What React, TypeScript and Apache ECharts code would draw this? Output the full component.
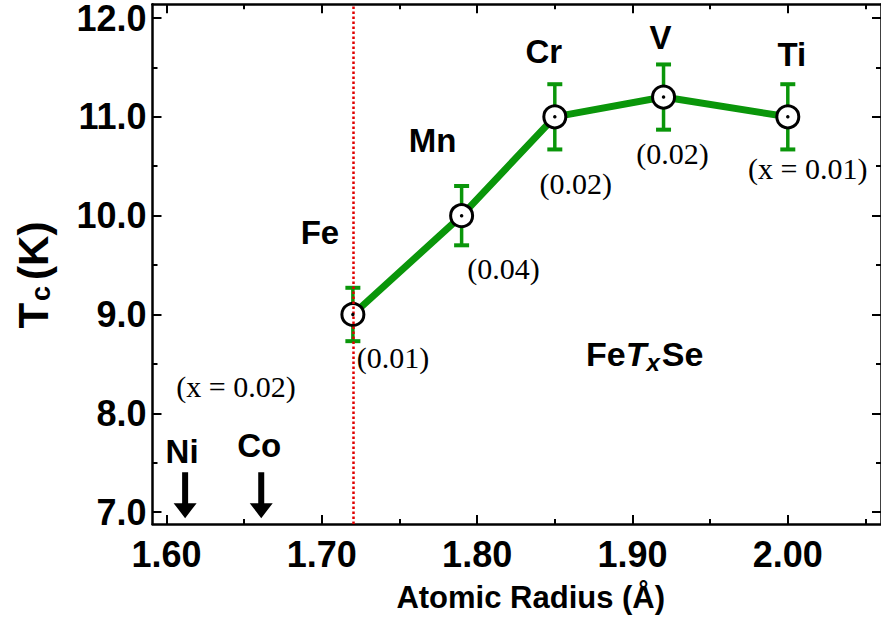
import React, { useEffect, useRef } from "react";
import * as echarts from "echarts";

// ---- data ----
const elements = ["Fe", "Mn", "Cr", "V", "Ti"];
const atomicRadius = [1.72, 1.79, 1.85, 1.92, 2.0];
const tc = [9.0, 10.0, 11.0, 11.2, 11.0];
const tcErr = [0.27, 0.3, 0.33, 0.33, 0.33];
const dopingLabels = ["(0.01)", "(0.04)", "(0.02)", "(0.02)", "(x = 0.01)"];
const otherElements = ["Ni", "Co"];
const otherRadius = [1.612, 1.661];
const otherBase = [7.0, 7.0];
const feRadius = 1.72;
const xTicks = [1.6, 1.7, 1.8, 1.9, 2.0];
const xMinorTicks = [1.65, 1.75, 1.85, 1.95, 2.05];
const yTicks = [7, 8, 9, 10, 11, 12];
const yMinorTicks = [7.5, 8.5, 9.5, 10.5, 11.5];

// ---- styles ----
const elementLabelOffsets = [
  [-33, -82],
  [-29, -75],
  [-11, -65],
  [-3, -60],
  [4, -62],
];
const dopingLabelOffsets = [
  [40, 43],
  [42, 53],
  [21, 67],
  [9, 56],
  [20, 52],
];
const otherLabelOffsets = [
  [-3, -44],
  [-2, -50],
];

const GREEN = "#0a960a";
const SANS = "'Liberation Sans', Arial, sans-serif";
const SERIF = "'Liberation Serif', 'Times New Roman', serif";

export default function App() {
  const ref = useRef<HTMLDivElement>(null);

  useEffect(() => {
    document.body.style.margin = "0";
    if (!ref.current) return;
    const chart = echarts.init(ref.current, undefined, { renderer: "svg" });

    const xMin = 1.591, xMax = 2.06, yMin = 6.88, yMax = 12.14;
    const lineW = 2.5;

    const baseX = (position: string, ticks: number[], len: number, showLine: boolean, showLabel: boolean) => ({
      type: "value",
      gridIndex: 0,
      position,
      min: xMin,
      max: xMax,
      axisLine: { show: showLine, onZero: false, lineStyle: { color: "#000", width: lineW } },
      axisTick: { show: true, inside: true, length: len, customValues: ticks, lineStyle: { color: "#000", width: 2 } },
      axisLabel: showLabel
        ? {
            show: true,
            customValues: ticks,
            formatter: (v: number) => v.toFixed(2),
            fontSize: 36,
            fontWeight: "bold",
            fontFamily: SANS,
            color: "#000",
            margin: 12,
          }
        : { show: false },
      splitLine: { show: false },
    });
    const baseY = (position: string, ticks: number[], len: number, showLine: boolean, showLabel: boolean) => ({
      type: "value",
      gridIndex: 0,
      position,
      min: yMin,
      max: yMax,
      axisLine: { show: showLine, onZero: false, lineStyle: { color: "#000", width: lineW } },
      axisTick: { show: true, inside: true, length: len, customValues: ticks, lineStyle: { color: "#000", width: 2 } },
      axisLabel: showLabel
        ? {
            show: true,
            customValues: ticks,
            formatter: (v: number) => v.toFixed(1),
            fontSize: 36,
            lineHeight: 28,
            fontWeight: "bold",
            fontFamily: SANS,
            color: "#000",
            margin: 6,
          }
        : { show: false },
      splitLine: { show: false },
    });

    const xMain: any = baseX("bottom", xTicks, 9, true, true);
    xMain.name = "Atomic Radius (Å)";
    xMain.nameLocation = "middle";
    xMain.nameGap = 58;
    xMain.nameTextStyle = { fontSize: 31, fontWeight: "bold", fontFamily: SANS, color: "#000", padding: [0, 0, 0, 28] };

    const yMain: any = baseY("left", yTicks, 9, true, true);
    yMain.name = "{t|T}{s|c}{t|(K)}";
    yMain.nameLocation = "middle";
    yMain.nameGap = 98;
    yMain.nameRotate = 90;
    yMain.nameTextStyle = {
      padding: [0, 22, 0, 0],
      rich: {
        t: { fontSize: 42, fontWeight: "bold", fontFamily: SANS, color: "#000" },
        s: { fontSize: 27, fontWeight: "bold", fontFamily: SANS, color: "#000", padding: [16, 6, 0, 2] },
      },
    };

    const option: any = {
      animation: false,
      backgroundColor: "#fff",
      textStyle: { fontFamily: SANS },
      grid: { left: 152.5, top: 1, right: -3, bottom: 108, containLabel: false },
      xAxis: [
        xMain,
        baseX("bottom", xMinorTicks, 5, false, false),
        baseX("top", xTicks, 9, true, false),
        baseX("top", xMinorTicks, 5, false, false),
      ],
      yAxis: [
        yMain,
        baseY("left", yMinorTicks, 5, false, false),
        baseY("right", yTicks, 9, true, false),
        baseY("right", yMinorTicks, 5, false, false),
      ],
      series: [
        {
          type: "custom",
          name: "err",
          xAxisIndex: 0,
          yAxisIndex: 0,
          z: 2,
          data: atomicRadius.map((r, i) => [r, tc[i], tcErr[i]]),
          encode: { x: 0, y: 1 },
          renderItem: (params: any, api: any) => {
            const x = api.value(0), y = api.value(1), e = api.value(2);
            const top = api.coord([x, y + e]);
            const bot = api.coord([x, y - e]);
            const hw = 7.5;
            const st = { stroke: GREEN, lineWidth: 3.5 };
            const cap = { stroke: GREEN, lineWidth: 4 };
            return {
              type: "group",
              children: [
                { type: "line", shape: { x1: top[0], y1: top[1], x2: bot[0], y2: bot[1] }, style: st },
                { type: "line", shape: { x1: top[0] - hw, y1: top[1], x2: top[0] + hw, y2: top[1] }, style: cap },
                { type: "line", shape: { x1: bot[0] - hw, y1: bot[1], x2: bot[0] + hw, y2: bot[1] }, style: cap },
              ],
            };
          },
        },
        {
          type: "line",
          name: "Tc",
          xAxisIndex: 0,
          yAxisIndex: 0,
          z: 3,
          symbol: "circle",
          symbolSize: 22,
          lineStyle: { color: GREEN, width: 7 },
          itemStyle: { color: "#fff", borderColor: "#000", borderWidth: 3, opacity: 1 },
          data: atomicRadius.map((r, i) => ({
            value: [r, tc[i]],
            label: {
              show: true,
              position: "inside",
              formatter: elements[i],
              offset: elementLabelOffsets[i],
              fontSize: 33,
              fontWeight: "bold",
              fontFamily: SANS,
              color: "#000",
            },
          })),
        },
        {
          type: "scatter",
          name: "dots",
          xAxisIndex: 0,
          yAxisIndex: 0,
          z: 10,
          symbol: "circle",
          symbolSize: 3.5,
          itemStyle: { color: "#000", opacity: 1 },
          data: atomicRadius.map((r, i) => ({
            value: [r, tc[i]],
            label: {
              show: true,
              position: "inside",
              formatter: dopingLabels[i],
              offset: dopingLabelOffsets[i],
              fontSize: 30,
              fontFamily: SERIF,
              color: "#000",
              opacity: 1,
            },
          })),
          markLine: {
            silent: true,
            symbol: "none",
            label: { show: false },
            lineStyle: { color: "#e00000", type: [2.5, 2.5], width: 2.5, opacity: 1 },
            data: [{ xAxis: feRadius }],
          },
        },
        {
          type: "scatter",
          name: "others",
          xAxisIndex: 0,
          yAxisIndex: 0,
          z: 5,
          symbol: "path://M8.5,0 L14.5,0 L14.5,31 L23,31 L11.5,46 L0,31 L8.5,31 Z",
          symbolSize: [23, 46],
          symbolKeepAspect: false,
          symbolOffset: [0, -17],
          itemStyle: { color: "#000", opacity: 1 },
          data: otherRadius.map((r, i) => ({
            value: [r, otherBase[i]],
            label: {
              show: true,
              position: "inside",
              formatter: otherElements[i],
              offset: otherLabelOffsets[i],
              fontSize: 33,
              fontWeight: "bold",
              fontFamily: SANS,
              color: "#000",
              opacity: 1,
            },
          })),
        },
      ],
      graphic: [
        {
          type: "text",
          x: 236,
          y: 386,
          style: { text: "(x = 0.02)", font: `30px ${SERIF}`, fill: "#000", align: "center", verticalAlign: "middle" },
        },
        {
          type: "text",
          x: 586,
          y: 354,
          style: {
            text: "{a|Fe}{b|T}{c|x}{a|Se}",
            align: "left",
            verticalAlign: "middle",
            rich: {
              a: { fontSize: 34, fontWeight: "bold", fontFamily: SANS, fill: "#000" },
              b: { fontSize: 34, fontWeight: "bold", fontStyle: "italic", fontFamily: SANS, fill: "#000" },
              c: { fontSize: 24, fontWeight: "bold", fontStyle: "italic", fontFamily: SANS, fill: "#000", padding: [16, 2, 0, 0] },
            },
          },
        },
      ],
    };

    chart.setOption(option);
    return () => chart.dispose();
  }, []);

  return <div ref={ref} style={{ width: 881, height: 632 }} />;
}
